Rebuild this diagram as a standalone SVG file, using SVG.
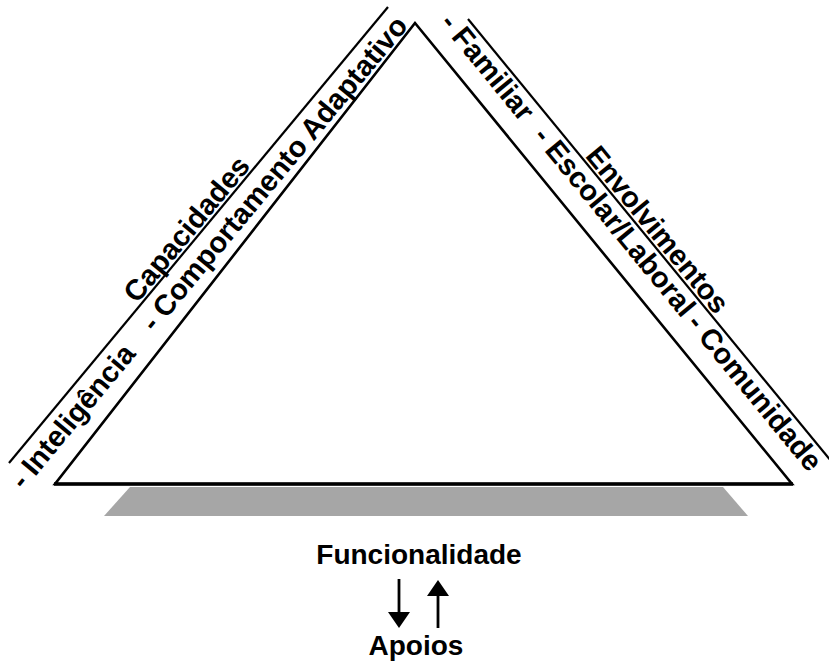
<svg xmlns="http://www.w3.org/2000/svg" width="829" height="665" viewBox="0 0 829 665">
  <defs>
    <style>
      .lbl { font-family: "Liberation Sans", Arial, sans-serif; font-weight: bold; font-size: 29px; fill: #000; }
      .cap { font-family: "Liberation Sans", Arial, sans-serif; font-weight: bold; font-size: 28px; fill: #000; text-anchor: middle; }
      .ln { stroke: #000; stroke-width: 2.2; fill: none; }
      .arr { stroke: #000; stroke-width: 2.8; fill: none; }
      .head { fill: #000; stroke: none; }
    </style>
  </defs>
  <rect width="829" height="665" fill="#fff"/>

  <g id="shadow">
    <polygon points="130,487 723,487 748,516 104,516" fill="#a6a6a6"/>
  </g>

  <g id="triangle">
    <polygon points="415,23 55,484 792,484" fill="#fff" stroke="#000" stroke-width="2.6" stroke-linejoin="miter"/>
    <line x1="54" y1="484" x2="793" y2="484" stroke="#000" stroke-width="3.4"/>
  </g>

  <g id="capacidades">
    <line class="ln" x1="9" y1="463" x2="388" y2="7"/>
    <g transform="translate(9,463) rotate(-50.3)">
      <text class="lbl" x="204" y="-3">Capacidades</text>
      <text class="lbl" x="-12" y="29">- Inteligência</text>
      <text class="lbl" x="193" y="29">- Comportamento Adaptativo</text>
    </g>
  </g>

  <g id="envolvimentos">
    <line class="ln" x1="468" y1="19" x2="840" y2="472"/>
    <g transform="translate(468,19) rotate(50.6)">
      <text class="lbl" x="180" y="-3">Envolvimentos</text>
      <text class="lbl" x="-15" y="25">- Familiar</text>
      <text class="lbl" x="132" y="25">- Escolar/Laboral</text>
      <text class="lbl" x="374" y="25">- Comunidade</text>
    </g>
  </g>

  <g id="funcionalidade">
    <text class="cap" x="419" y="564">Funcionalidade</text>
  </g>

  <g id="apoios">
    <text class="cap" x="416" y="655">Apoios</text>
  </g>

  <g id="connectors">
    <line class="arr" x1="399" y1="579" x2="399" y2="614"/>
    <polygon class="head" points="388,612 410,612 399,628"/>
    <line class="arr" x1="438" y1="628" x2="438" y2="594"/>
    <polygon class="head" points="427,596 449,596 438,580"/>
  </g>
</svg>
